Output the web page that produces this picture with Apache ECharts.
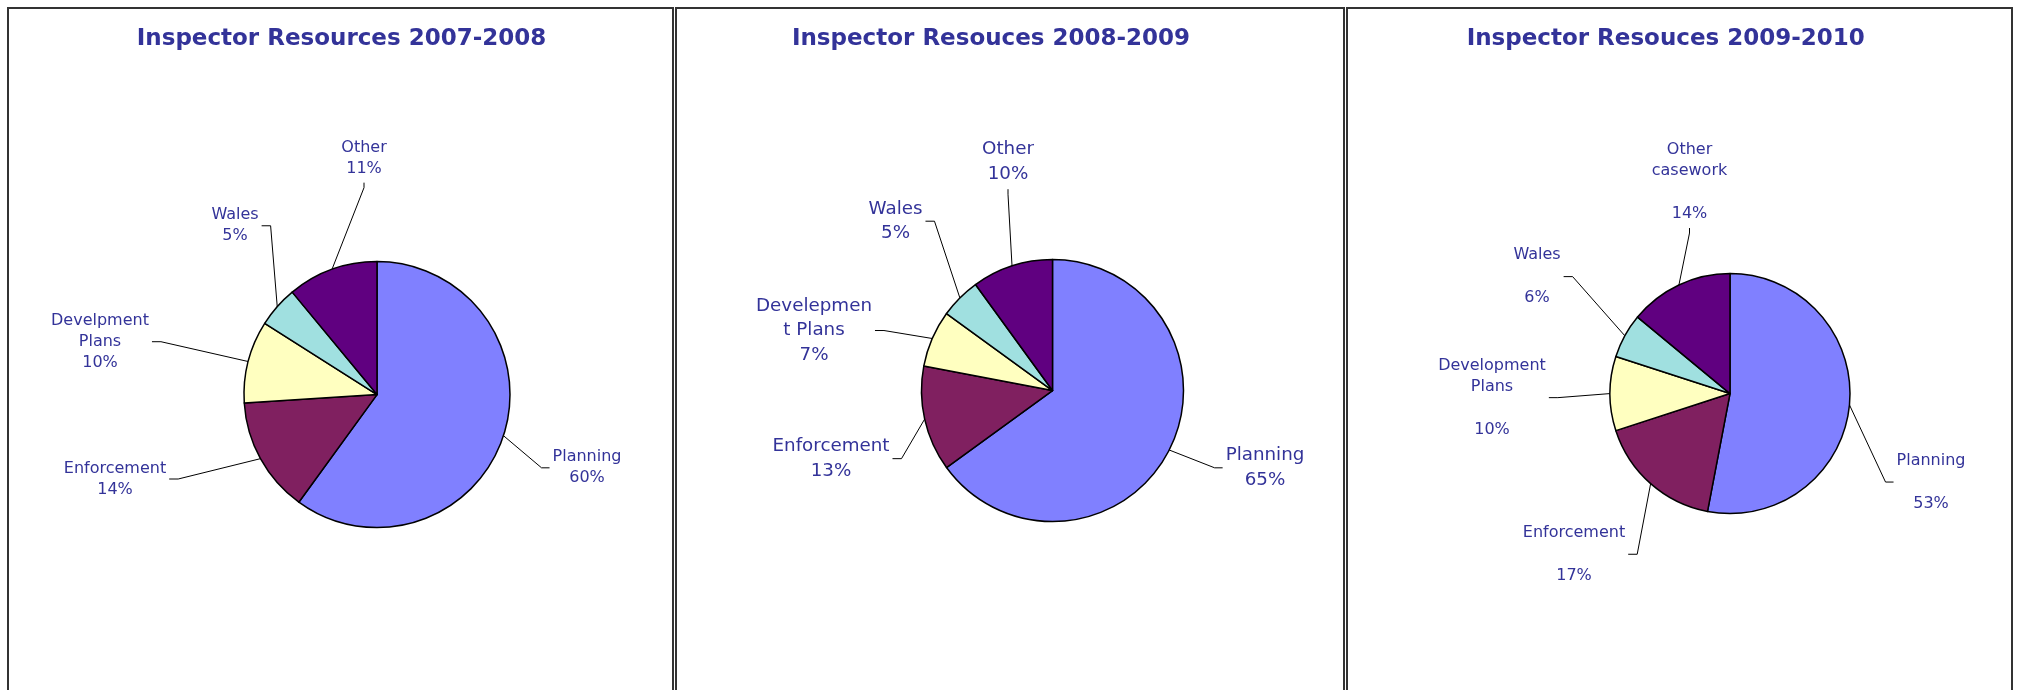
<!DOCTYPE html>
<html><head><meta charset="utf-8">
<script src="https://cdn.jsdelivr.net/npm/echarts@6/dist/echarts.min.js"></script>
<style>html,body{margin:0;padding:0;background:#fff}#c{width:2017px;height:690px}</style>
</head><body><div id="c"></div>
<script>
// ---- data ----
const categories2007 = ['Planning', 'Enforcement', 'Develpment\nPlans', 'Wales', 'Other'];
const values2007 = [60, 14, 10, 5, 11];
const categories2008 = ['Planning', 'Enforcement', 'Develepmen\nt Plans', 'Wales', 'Other'];
const values2008 = [65, 13, 7, 5, 10];
const categories2009 = ['Planning', 'Enforcement', 'Development\nPlans', 'Wales', 'Other\ncasework'];
const values2009 = [53, 17, 10, 6, 14];
const titles = ['Inspector Resources 2007-2008', 'Inspector Resouces 2008-2009', 'Inspector Resouces 2009-2010'];

// ---- styles / layout ----
const sliceColors = ['#8080FF', '#802060', '#FFFFC0', '#A0E0E0', '#600080'];
const textColor = '#333399';
const fontFam = '"DejaVu Sans", Verdana, sans-serif';
const K = 1.017; // vertical calibration
const panels = [
  { cats: categories2007, vals: values2007, box: [8, 8, 665], title: [341.5, 39],
    center: [377, 388], r: 133, font: 16, lh: 21, blank: false,
    labels: [[210, 72, 'l'], [-262, 83, 'r'], [-277, -52, 'r'], [-142, -166, 'r'], [-13, -232, 'b']] },
  { cats: categories2008, vals: values2008, box: [676, 8, 668], title: [991, 39],
    center: [1052.5, 384], r: 131, font: 18.3, lh: 24.5, blank: false,
    labels: [[212.5, 76, 'l'], [-221.5, 67, 'r'], [-238.5, -59, 'r'], [-157, -166.5, 'r'], [-44.5, -225, 'b']] },
  { cats: categories2009, vals: values2009, box: [1347, 8, 665], title: [1665.7, 39],
    center: [1730, 387], r: 120, font: 16, lh: 21.5, blank: true,
    labels: [[201, 87, 'l'], [-156, 158, 'r'], [-238, 4, 'r'], [-193, -115, 'r'], [-40.5, -208, 'b']] }
];

const chart = echarts.init(document.getElementById('c'), null, { renderer: 'canvas' });

const graphics = [];
panels.forEach((p, i) => {
  graphics.push({ type: 'rect', shape: { x: p.box[0], y: p.box[1], width: p.box[2], height: 720 },
    style: { fill: 'none', stroke: '#333', lineWidth: 2 }, silent: true });
  graphics.push({ type: 'text', x: p.title[0], y: p.title[1],
    style: { text: titles[i], fill: textColor, font: 'bold 23px ' + fontFam, textAlign: 'center', textVerticalAlign: 'middle' },
    silent: true });
});

const series = panels.map((p) => {
  const cy = p.center[1] * K;
  return {
    type: 'pie',
    center: [p.center[0], cy],
    radius: p.r,
    startAngle: 90,
    clockwise: true,
    avoidLabelOverlap: false,
    silent: true,
    animation: false,
    data: p.cats.map((n, i) => ({ name: n, value: p.vals[i], itemStyle: { color: sliceColors[i] } })),
    itemStyle: { borderColor: '#000', borderWidth: 1.5 },
    label: {
      show: true, position: 'outside', color: textColor, fontSize: p.font, lineHeight: p.lh,
      fontFamily: fontFam, align: 'center',
      formatter: prm => prm.name + (p.blank ? '\n\n' : '\n') + prm.value + '%'
    },
    labelLine: { show: true, length: 10, length2: 10, smooth: false, lineStyle: { color: '#000', width: 1 } },
    labelLayout: function (params) {
      const L = p.labels[params.dataIndex];
      const x = p.center[0] + L[0], y = cy + L[1] * K;
      const w = params.labelRect.width, h = params.labelRect.height;
      let end, elbow;
      if (L[2] === 'r') { end = [x + w / 2 + 3, y]; elbow = [end[0] + 9, y]; }
      else if (L[2] === 'l') { end = [x - w / 2 - 3, y]; elbow = [end[0] - 8, y]; }
      else { end = [x, y + h / 2 + 3]; elbow = [x, end[1] + 5]; }
      const p0 = params.labelLinePoints ? params.labelLinePoints[0] : elbow;
      return { x: x, y: y, align: 'center', verticalAlign: 'middle', labelLinePoints: [p0, elbow, end] };
    }
  };
});

chart.setOption({
  backgroundColor: '#fff',
  animation: false,
  graphic: graphics,
  series: series
});
</script></body></html>
